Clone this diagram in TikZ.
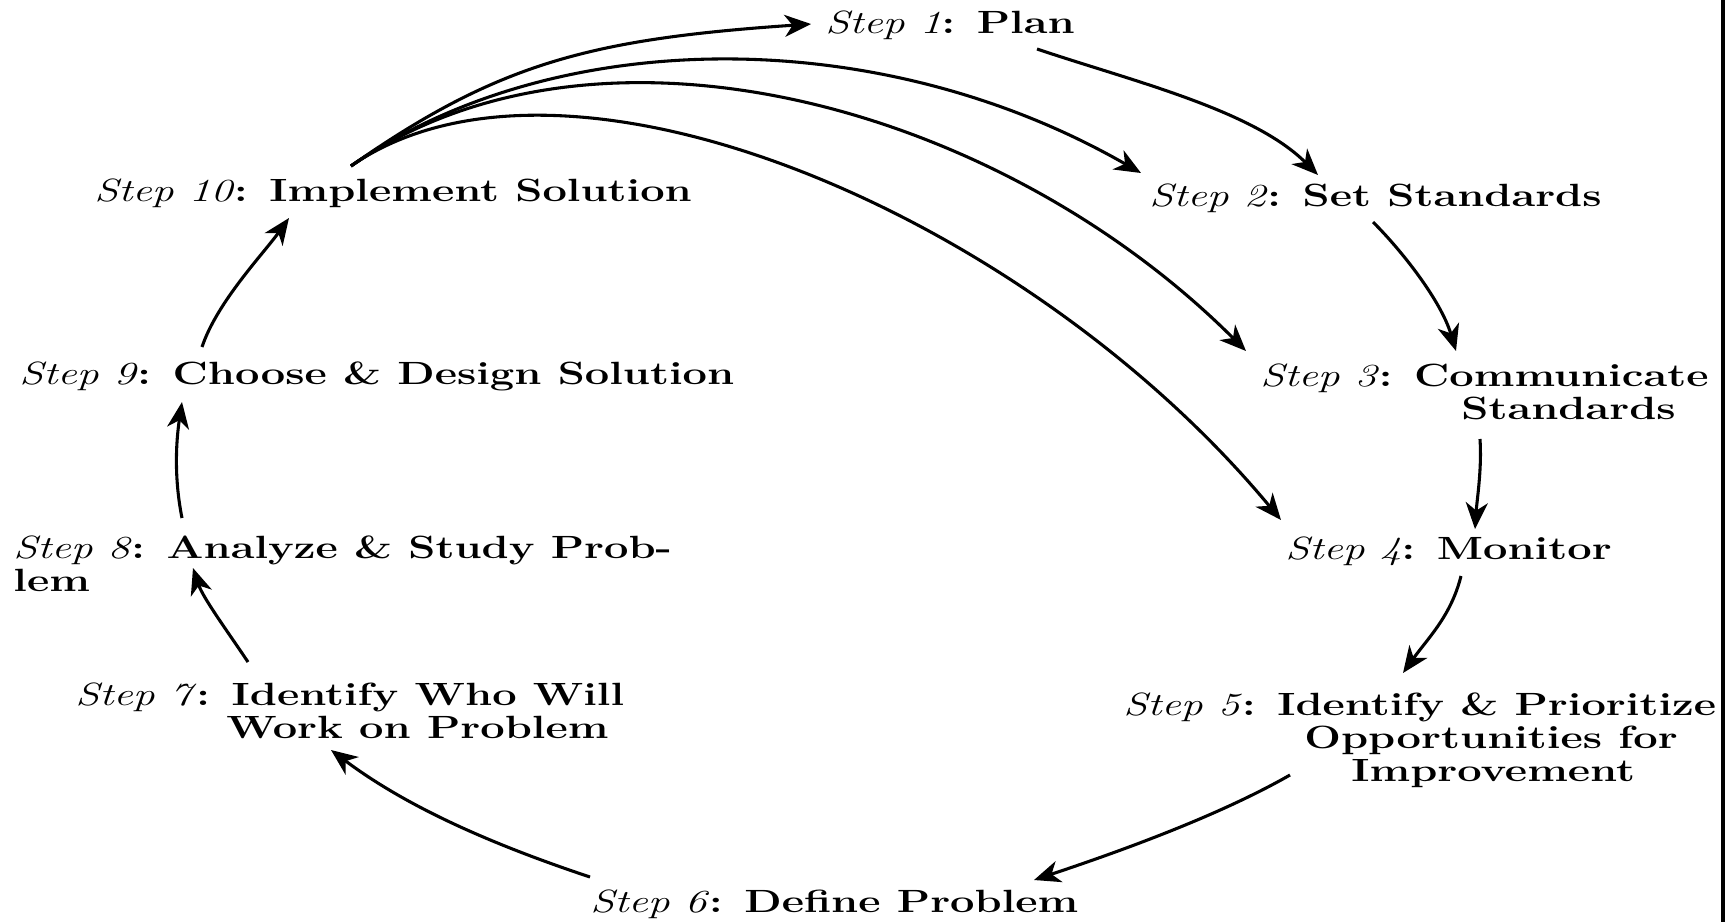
\documentclass[tikz,border=0pt]{standalone}
\usetikzlibrary{arrows.meta}
% horizontal stretch of the labels and the matching unit for indents
\newcommand\labxs{1.35}
\newlength\pxu
\setlength\pxu{0.4215pt}
\newcommand\stp[2]{\textit{Step #1}\textbf{: #2}}
\begin{document}
\begin{tikzpicture}[x=0.02cm, y=-0.02cm,
  lab/.style={anchor=west, inner sep=0pt, align=left, xscale=\labxs, transform shape,
    font=\fontsize{18.3}{18.8}\selectfont},
  flow/.style={line width=1.75pt, -{Stealth[length=15pt, width=12.5pt, inset=4.5pt]}}]
\useasboundingbox (0,0) rectangle (1729,921);
\draw[line width=1.8pt] (1723,-5) -- (1723,926);

\node[lab] (n1)  at (825,25)  {\stp{1}{Plan}};
\node[lab] (n2)  at (1149,198) {\stp{2}{Set Standards}};
\node[lab] (n3)  at (1260,392) {\stp{3}{Communicate}\\\hspace*{201\pxu}\textbf{Standards}};
\node[lab] (n4)  at (1285,551) {\stp{4}{Monitor}};
\node[lab] (n5)  at (1123,740) {\stp{5}{Identify \& Prioritize}\\\hspace*{181\pxu}\textbf{Opportunities for}\\\hspace*{228\pxu}\textbf{Improvement}};
\node[lab] (n6)  at (590,904)  {\stp{6}{Define Problem}};
\node[lab] (n7)  at (75,711)   {\stp{7}{Identify Who Will}\\\hspace*{151\pxu}\textbf{Work on Problem}};
\node[lab] (n8)  at (13,564)   {\stp{8}{Analyze \& Study Prob-}\\\textbf{lem}};
\node[lab] (n9)  at (19,376)   {\stp{9}{Choose \& Design Solution}};
\node[lab] (n10) at (94,193)   {\stp{10}{Implement Solution}};

% the main cycle
\draw[flow] ([shift={(212,24)}]n1.west) .. controls +(95,32) and +(-65,-65) .. ([shift={(169,-23)}]n2.west);
\draw[flow] ([shift={(224,24)}]n2.west) .. controls +(30,30) and +(-15,-50) .. ([shift={(196,-41)}]n3.west);
\draw[flow] ([shift={(220,47)}]n3.west) .. controls +(2,30) and +(2,-30) .. ([shift={(190,-22)}]n4.west);
\draw[flow] ([shift={(176,25)}]n4.west) .. controls +(-10,40) and +(25,-35) .. ([shift={(280,-67)}]n5.west);
\draw[flow] ([shift={(167,35)}]n5.west) .. controls +(-70,40) and +(90,-30) .. ([shift={(444,-24)}]n6.west);
\draw[flow] ([shift={(0,-27)}]n6.west) .. controls +(-90,-30) and +(80,60) .. ([shift={(256,39)}]n7.west);
\draw[flow] ([shift={(173,-49)}]n7.west) .. controls +(-20,-30) and +(10,30) .. ([shift={(180,4)}]n8.west);
\draw[flow] ([shift={(169,-46)}]n8.west) .. controls +(-8,-40) and +(-6,40) .. ([shift={(163,26)}]n9.west);
\draw[flow] ([shift={(183,-29)}]n9.west) .. controls +(15,-45) and +(-25,35) .. ([shift={(195,25)}]n10.west);

% feedback from step 10
\draw[flow] ([shift={(257,-27)}]n10.west) .. controls +(147,-103) and +(-220,15) .. ([shift={(-14,-1)}]n1.west);
\draw[flow] ([shift={(257,-27)}]n10.west) .. controls +(205,-142) and +(-261,-150) .. ([shift={(-8,-25)}]n2.west);
\draw[flow] ([shift={(257,-27)}]n10.west) .. controls +(246,-171) and +(-247,-247) .. ([shift={(-14,-41)}]n3.west);
\draw[flow] ([shift={(257,-27)}]n10.west) .. controls +(213,-148) and +(-256,-308) .. ([shift={(-4,-31)}]n4.west);
\end{tikzpicture}
\end{document}
